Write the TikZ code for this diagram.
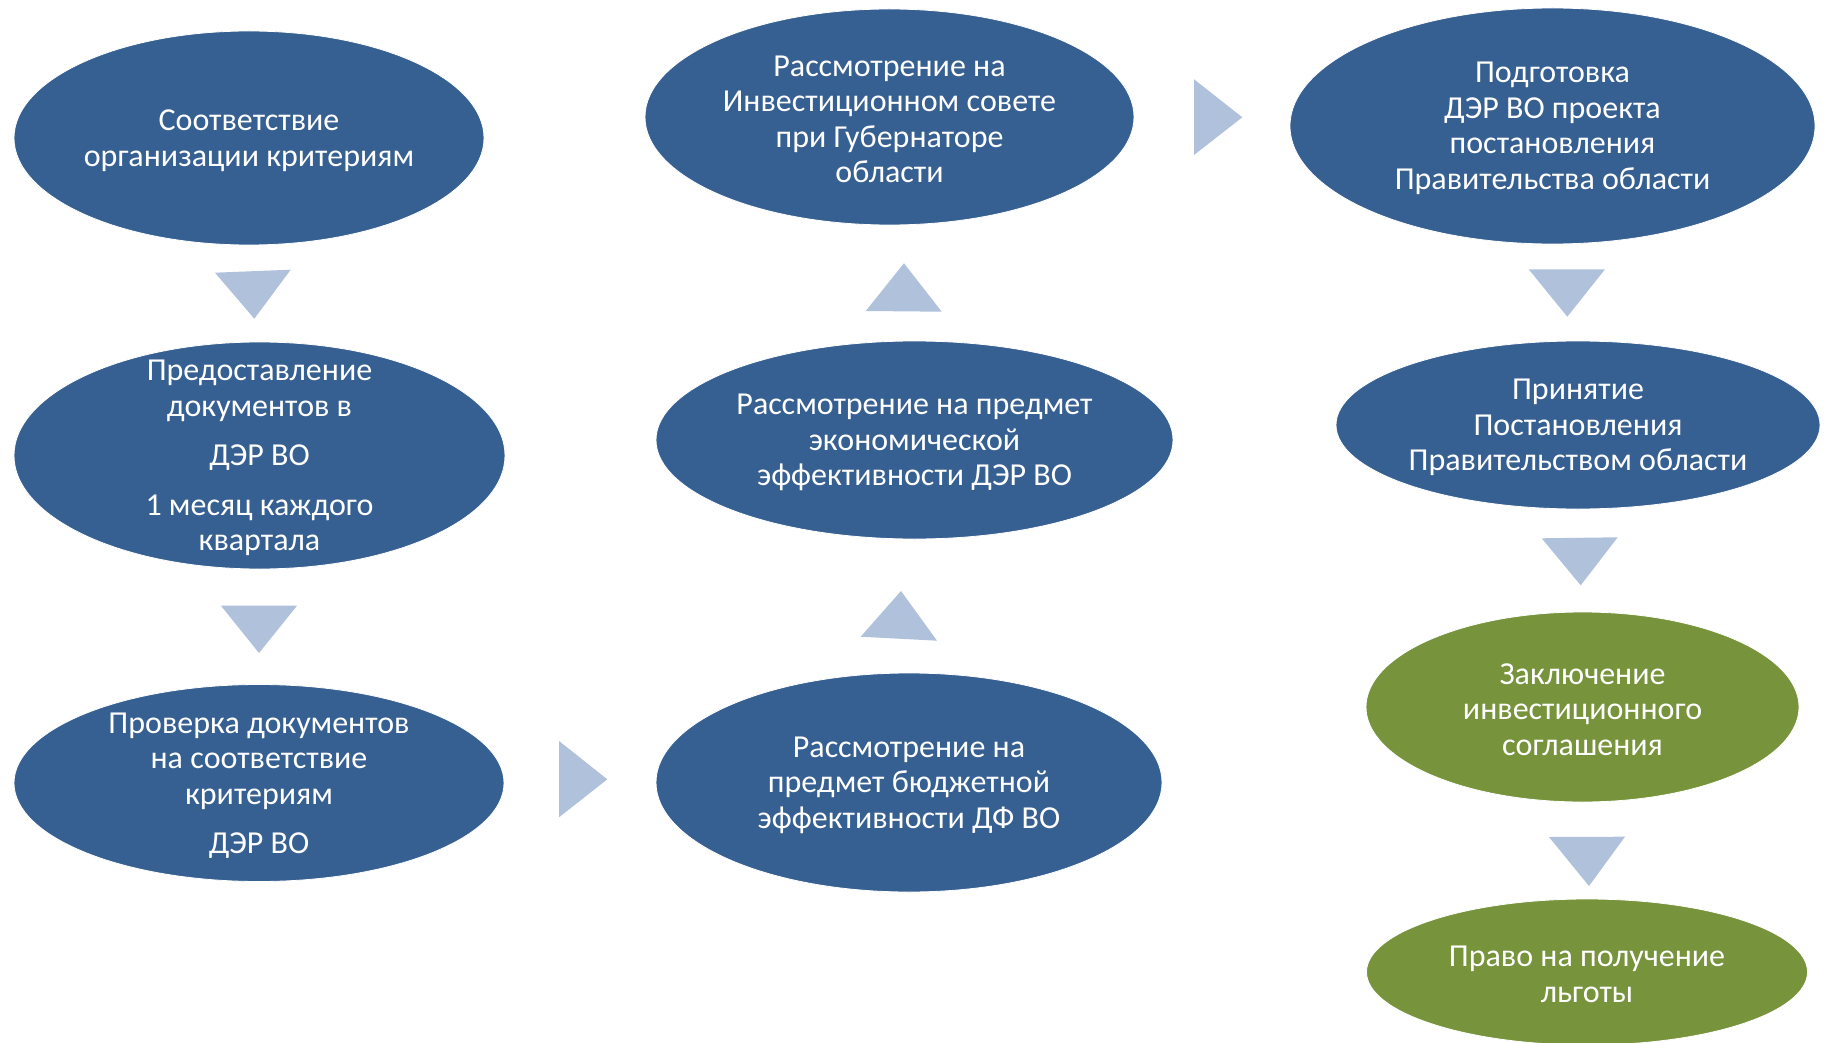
\documentclass[tikz,border=0pt]{standalone}
\usepackage{fontspec}
\setmainfont{Carlito}
\usetikzlibrary{shapes.geometric}
\definecolor{stepblue}{RGB}{55,96,146}
\definecolor{stepgreen}{RGB}{119,147,60}
\definecolor{arrowfill}{RGB}{176,193,220}
\begin{document}
\begin{tikzpicture}[x=1pt,y=-1pt,
  blob/.style={ellipse, fill=stepblue, draw=white, line width=0.8pt, inner sep=0pt},
  gblob/.style={blob, fill=stepgreen},
  txt/.style={text=white, align=center, font=\fontsize{32}{35.5}\selectfont, inner sep=0pt, yshift=-2.5pt},
  tri/.style={fill=arrowfill, draw=none}]
\useasboundingbox[fill=white] (0,0) rectangle (1829,1043);
% ellipses
\node[blob, minimum width=470pt, minimum height=214pt] (e1) at (249,138) {};
\node[blob, minimum width=491pt, minimum height=227pt] (e2) at (259.5,455.5) {};
\node[blob, minimum width=490pt, minimum height=197pt] (e3) at (259,783) {};
\node[blob, minimum width=506pt, minimum height=219pt] (e4) at (909,782.5) {};
\node[blob, minimum width=517pt, minimum height=198pt] (e5) at (914.5,440) {};
\node[blob, minimum width=489pt, minimum height=216pt] (e6) at (889.5,117) {};
\node[blob, minimum width=525pt, minimum height=236pt] (e7) at (1552.5,126) {};
\node[blob, minimum width=484pt, minimum height=168pt] (e8) at (1578,425) {};
\node[gblob, minimum width=433pt, minimum height=190pt] (e9) at (1582.5,707) {};
\node[gblob, minimum width=441pt, minimum height=146pt] (e10) at (1587,972) {};
% texts
\node[txt] (t1) at (e1.center) {Соответствие\\организации критериям};
\node[txt] (t2) at (e2.center) {Предоставление\\документов в\\[14pt]ДЭР ВО\\[14pt]1 месяц каждого\\квартала};
\node[txt] (t3) at (e3.center) {Проверка документов\\на соответствие\\критериям\\[14pt]ДЭР ВО};
\node[txt] (t4) at (e4.center) {Рассмотрение на\\предмет бюджетной\\эффективности ДФ ВО};
\node[txt] (t5) at (e5.center) {Рассмотрение на предмет\\экономической\\эффективности ДЭР ВО};
\node[txt] (t6) at (e6.center) {Рассмотрение на\\Инвестиционном совете\\при Губернаторе\\области};
\node[txt] (t7) at (e7.center) {Подготовка\\ДЭР ВО проекта\\постановления\\Правительства области};
\node[txt] (t8) at (e8.center) {Принятие\\Постановления\\Правительством области};
\node[txt] (t9) at (e9.center) {Заключение\\инвестиционного\\соглашения};
\node[txt] (t10) at (e10.center) {Право на получение\\льготы};
% arrow triangles
\fill[tri] (215,272.7) -- (290.7,269.7) -- (254.3,318.7) -- cycle;
\fill[tri] (221,605.7) -- (297,605.7) -- (259,653) -- cycle;
\fill[tri] (559,741) -- (559,817.3) -- (607.3,779.3) -- cycle;
\fill[tri] (860.7,636.7) -- (937,640.7) -- (901,591) -- cycle;
\fill[tri] (865.7,311) -- (941.7,311.7) -- (904,263.3) -- cycle;
\fill[tri] (1194,79.3) -- (1194,155) -- (1242.3,117.3) -- cycle;
\fill[tri] (1528.7,269.3) -- (1605,269.3) -- (1567.3,316.7) -- cycle;
\fill[tri] (1541.7,538.3) -- (1617.7,537.3) -- (1580.7,585.3) -- cycle;
\fill[tri] (1549,837) -- (1625,836.7) -- (1589,886) -- cycle;
\end{tikzpicture}
\end{document}
